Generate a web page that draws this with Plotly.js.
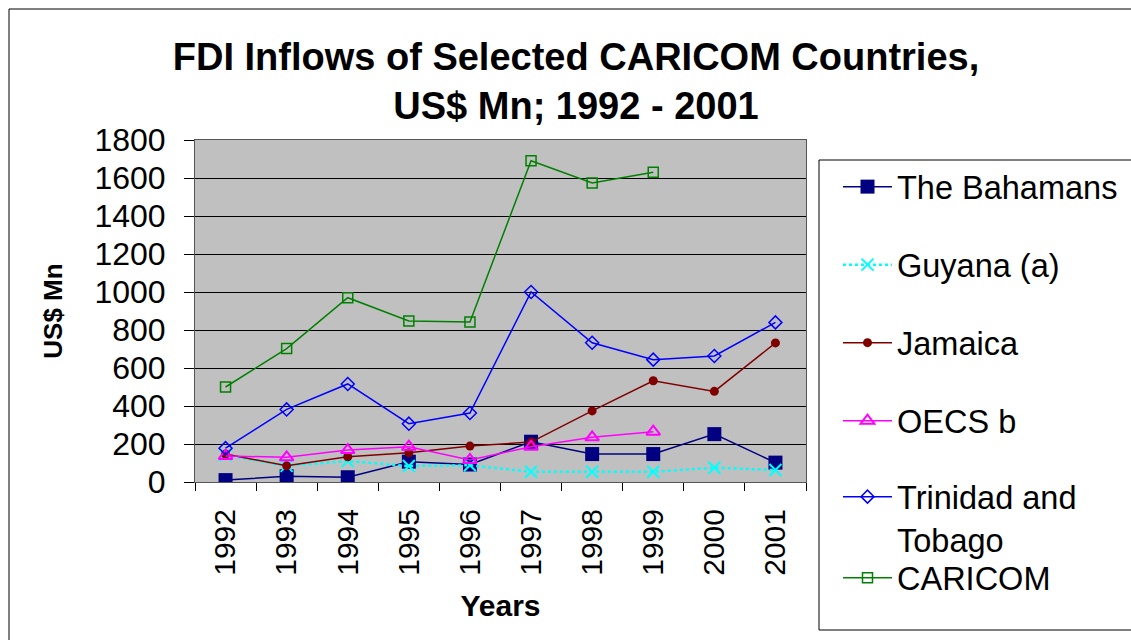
<!DOCTYPE html>
<html>
<head>
<meta charset="utf-8">
<script src="https://cdn.plot.ly/plotly-3.0.1.min.js"></script>
<style>
html,body{margin:0;padding:0;background:#fff;}
#chart{width:1131px;height:640px;}
</style>
</head>
<body>
<div id="chart"></div>
<script>
var years = ['1992','1993','1994','1995','1996','1997','1998','1999','2000','2001'];
var seriesNames = ['The Bahamans','Guyana (a)','Jamaica','OECS b','Trinidad and<br>Tobago','CARICOM'];
var bahamas  = [10, 30, 25, 107, 92, 212, 147, 147, 252, 102];
var guyana   = [142, 85, 110, 84, 88, 54, 54, 54, 75, 63];
var jamaica  = [147, 85, 133, 154, 189, 210, 374, 533, 477, 732];
var oecs     = [137, 130, 168, 186, 116, 186, 235, 265, null, null];
var trinidad = [178, 382, 516, 307, 363, 1000, 733, 644, 663, 840];
var caricom  = [500, 702, 970, 847, 842, 1691, 1574, 1630, null, null];
var yTicks = [0,200,400,600,800,1000,1200,1400,1600,1800];

var FONT = '"Liberation Sans", Arial, sans-serif';

var traces = [
  {x: years, y: bahamas, name: seriesNames[0], legend: 'legend', mode: 'lines+markers',
   line: {color: '#000080', width: 1.5},
   marker: {symbol: 'square', size: 14, color: '#000080'}},
  {x: years, y: guyana, name: seriesNames[1], legend: 'legend2', mode: 'lines+markers',
   line: {color: '#00FFFF', width: 2.5, dash: 'dot'},
   marker: {symbol: 'x-thin-open', size: 12, color: '#00FFFF', line: {color: '#00FFFF', width: 2}}},
  {x: years, y: jamaica, name: seriesNames[2], legend: 'legend3', mode: 'lines+markers',
   line: {color: '#800000', width: 1.5},
   marker: {symbol: 'circle', size: 9, color: '#800000'}},
  {x: years, y: oecs, name: seriesNames[3], legend: 'legend4', mode: 'lines+markers',
   line: {color: '#FF00FF', width: 1.5},
   marker: {symbol: 'triangle-up-open', size: 12, color: '#FF00FF', line: {color: '#FF00FF', width: 2}}},
  {x: years, y: trinidad, name: seriesNames[4], legend: 'legend5', mode: 'lines+markers',
   line: {color: '#0000FF', width: 1.5},
   marker: {symbol: 'diamond-open', size: 10, color: '#0000FF', line: {color: '#0000FF', width: 1.5}}},
  {x: years, y: caricom, name: seriesNames[5], legend: 'legend6', mode: 'lines+markers',
   line: {color: '#008000', width: 1.5},
   marker: {symbol: 'square-open', size: 10, color: '#008000', line: {color: '#008000', width: 1.5}}}
];

function leg(yc) {
  return {xref: 'container', yref: 'container', x: 838/1131, y: 1 - yc/640,
    xanchor: 'left', yanchor: 'middle', bgcolor: 'rgba(0,0,0,0)', borderwidth: 0,
    itemwidth: 49, valign: 'top',
    font: {family: FONT, size: 32.5, color: '#000'}};
}

var W = 1131, H = 640, L = 195, R = 325, T = 140, B = 158;
var pw = W - L - R, ph = H - T - B;
function px(x) { return (x - L) / pw; }
function py(y) { return (H - B - y) / ph; }

var layout = {
  width: W, height: H,
  margin: {l: L, r: R, t: T, b: B, pad: 0},
  paper_bgcolor: '#ffffff',
  plot_bgcolor: '#C0C0C0',
  font: {family: FONT, color: '#000'},
  title: {text: '<b>FDI Inflows of Selected CARICOM Countries,<br>US$ Mn; 1992 - 2001</b>',
    font: {family: FONT, size: 38, color: '#000'},
    xref: 'container', yref: 'container', x: 576/1131, xanchor: 'center',
    y: 1 - 70/640, yanchor: 'top'},
  xaxis: {type: 'category', range: [-0.5, 9.5], tickangle: -90,
    tickson: 'boundaries', ticks: 'outside', ticklen: 8, tickcolor: '#000',
    ticklabelstandoff: 14,
    showgrid: false, showline: true, linecolor: '#555', linewidth: 1, mirror: true,
    tickfont: {family: FONT, size: 30, color: '#000'},
    title: {text: '<b>Years</b>', font: {family: FONT, size: 30, color: '#000'}, standoff: 20},
    zeroline: false, fixedrange: true},
  yaxis: {range: [0, 1800], tickvals: yTicks, ticktext: yTicks.map(String),
    ticks: 'outside', ticklen: 10, tickcolor: '#000',
    ticklabelstandoff: 12,
    showgrid: true, gridcolor: '#000', gridwidth: 1,
    showline: true, linecolor: '#555', linewidth: 1, mirror: true,
    tickfont: {family: FONT, size: 32, color: '#000'},
    title: {text: '<b>US$ Mn</b>', font: {family: FONT, size: 26, color: '#000'}, standoff: 24},
    zeroline: false, fixedrange: true},
  legend: leg(187), legend2: leg(265), legend3: leg(343), legend4: leg(421),
  legend5: leg(518), legend6: leg(578),
  shapes: [
    {type: 'rect', xref: 'paper', yref: 'paper', x0: px(819), x1: px(1140), y0: py(630), y1: py(160),
     line: {color: '#000', width: 1}, fillcolor: 'rgba(0,0,0,0)', layer: 'above'},
    {type: 'line', xref: 'paper', yref: 'paper', x0: px(9), x1: px(1140), y0: py(9), y1: py(9),
     line: {color: '#000', width: 1}},
    {type: 'line', xref: 'paper', yref: 'paper', x0: px(9), x1: px(9), y0: py(9), y1: py(650),
     line: {color: '#000', width: 1}}
  ],
  showlegend: true
};

Plotly.newPlot('chart', traces, layout, {staticPlot: true, displayModeBar: false});
</script>
</body>
</html>
